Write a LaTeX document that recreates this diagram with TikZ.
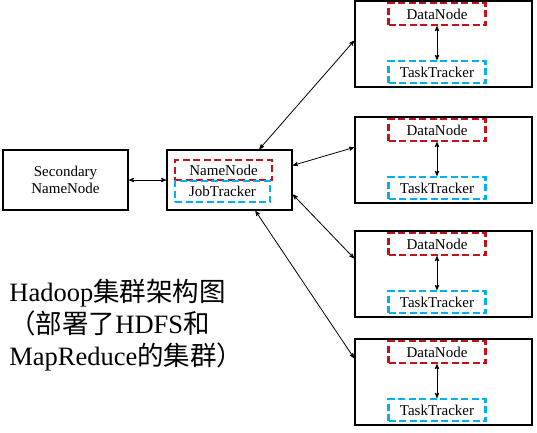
\documentclass[tikz,border=0pt]{standalone}
\usepackage{fontspec}
\setmainfont{Liberation Serif}
\newfontfamily\cjk{Noto Sans CJK SC}
\usetikzlibrary{arrows}
\definecolor{dnred}{RGB}{196,18,24}
\definecolor{ttblue}{RGB}{0,176,240}

\tikzset{
  host/.style={draw, line width=2pt, minimum width=125pt, minimum height=60pt,
    inner sep=0pt, align=center},
  worker/.style={draw, line width=2pt, minimum width=177pt, minimum height=86pt, inner sep=0pt},
  daemon/.style={draw, line width=2.3pt, dash pattern=on 7pt off 3.5pt,
    minimum width=97pt, minimum height=22pt, inner sep=0pt},
  dnbox/.style={daemon, draw=dnred},
  ttbox/.style={daemon, draw=ttblue},
}

\begin{document}
\begin{tikzpicture}[x=1pt, y=-1pt, <->, >=stealth', line width=0.8pt,
    font=\fontsize{15}{16.5}\selectfont]
  \useasboundingbox (0,0) rectangle (537,432);

  \node[host]  (snn) at (65.5,180)  {Secondary\\NameNode};
  \node[host]  (nn)  at (229.5,180) {};
  \node[dnbox, minimum height=20pt] (nnd) at (223.5,170) {NameNode};
  \node[ttbox, minimum height=21pt, minimum width=95pt] (jt) at (222.5,191.5) {JobTracker};

  % slave 1
  \node[worker] (w1) at (443.5,44)  {};
  \node[dnbox]  (d1) at (437,14)    {DataNode};
  \node[ttbox]  (t1) at (437,72)    {TaskTracker};
  % slave 2
  \node[worker] (w2) at (443.5,160) {};
  \node[dnbox]  (d2) at (437,130)   {DataNode};
  \node[ttbox]  (t2) at (437,188)   {TaskTracker};
  % slave 3
  \node[worker] (w3) at (443.5,274) {};
  \node[dnbox]  (d3) at (437,244)   {DataNode};
  \node[ttbox]  (t3) at (437,302)   {TaskTracker};
  % slave 4
  \node[worker] (w4) at (443.5,382) {};
  \node[dnbox]  (d4) at (437,352)   {DataNode};
  \node[ttbox]  (t4) at (437,410)   {TaskTracker};

  \node[anchor=north west, inner sep=0pt, align=left, font=\fontsize{26.5}{32}\selectfont]
    (cap) at (9,279) {Hadoop{\cjk 集群架构图}\\{\cjk （部署了}HDFS{\cjk 和}\\MapReduce{\cjk 的集群）}};

  \path
    % secondary <-> master
    (snn) edge (nn)
    % master <-> slaves
    (nn.46)  edge (w1.178)
    (nn.13)  edge (w2.172)
    (nn.-13) edge (w3.170)
    (nn.-50) edge (w4.165)
    % datanode <-> tasktracker
    (d1) edge (t1)
    (d2) edge (t2)
    (d3) edge (t3)
    (d4) edge (t4);
\end{tikzpicture}
\end{document}
